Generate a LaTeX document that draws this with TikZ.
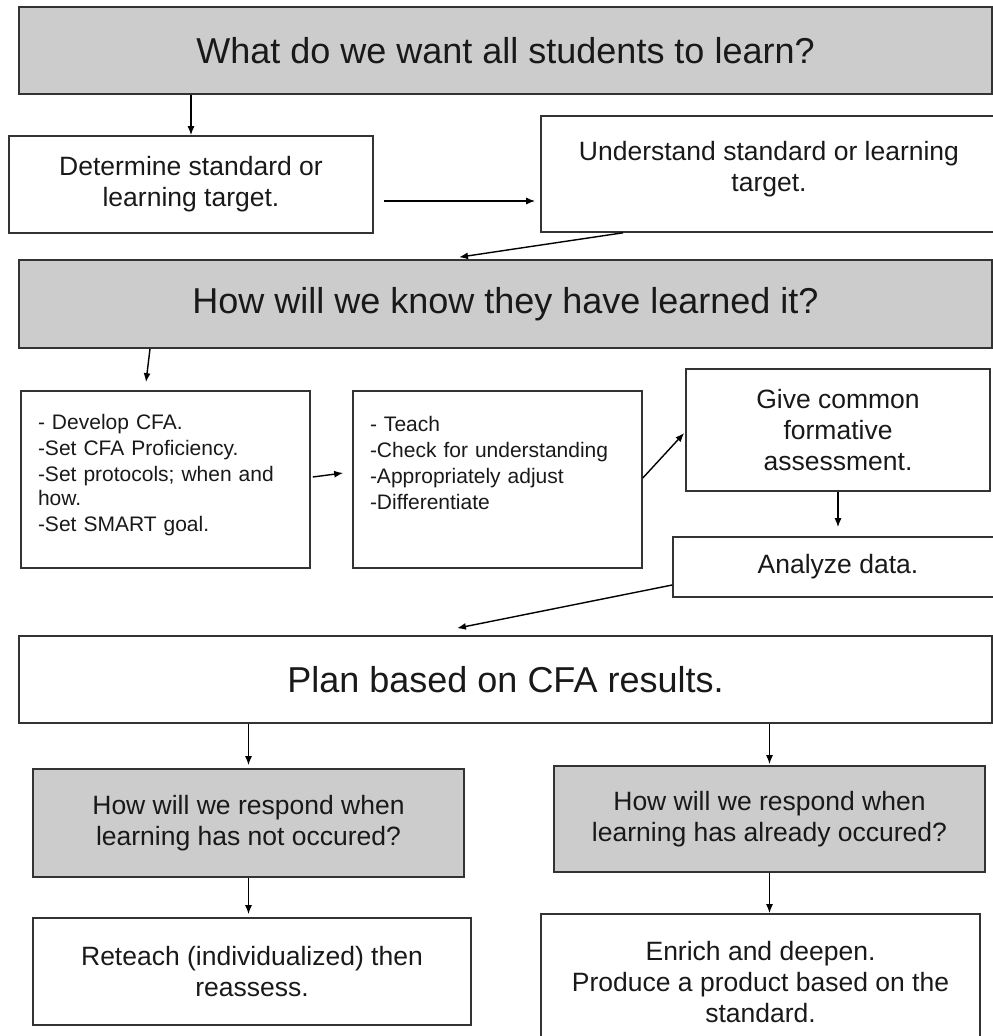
\documentclass[tikz,border=0pt]{standalone}
\usepackage{fontspec}
\setmainfont{Liberation Sans}
\usetikzlibrary{arrows.meta, positioning, calc}

\begin{document}
\begin{tikzpicture}[x=1pt, y=-1pt, >={Latex[length=9pt, width=7pt]},
  box/.style={draw=black!80, line width=1.6pt, inner sep=0pt, align=center, text=black!90},
  shaded/.style={box, fill=black!20},
  bigtext/.style={font=\fontsize{36}{42}\selectfont},
  midtext/.style={font=\fontsize{26.5}{31}\selectfont},
  listtext/.style={font=\fontsize{21}{24}\selectfont, text width=255pt, align=left},
  arr/.style={->, line width=1.4pt}]
  \useasboundingbox (0,0) rectangle (993,1036);
  \clip (0,0) rectangle (993,1036);

  \node[shaded, bigtext, minimum width=973pt, minimum height=87pt] (want) at (505.5,50.5)
    {What do we want all students to learn?};
  \node[box, midtext, minimum width=364pt, minimum height=97pt] (det) at (191,184.5)
    {Determine standard or\\learning target.};
  \node[box, midtext, minimum width=456pt, minimum height=116pt] (und) at (769,174)
    {Understand standard or learning\\target.\rule[-16pt]{0pt}{0pt}};
  \node[shaded, bigtext, minimum width=973pt, minimum height=88pt] (know) at (505.5,304)
    {How will we know they have learned it?};

  \node[box, listtext, minimum width=289pt, minimum height=177pt] (dev) at (165.5,479.5)
    {- Develop CFA.\\[2pt]-Set CFA Proficiency.\\[2pt]-Set protocols; when and how.\\[2pt]-Set SMART goal.\rule[-14pt]{0pt}{0pt}};
  \node[box, listtext, minimum width=289pt, minimum height=177pt] (teach) at (497.5,479.5)
    {- Teach\\[2pt]-Check for understanding\\[2pt]-Appropriately adjust\\[2pt]-Differentiate\rule[-34pt]{0pt}{0pt}};
  \node[box, midtext, minimum width=304pt, minimum height=122pt] (give) at (838,430)
    {Give common\\formative\\assessment.};
  \node[box, midtext, minimum width=330pt, minimum height=60pt] (data) at (838,567)
    {Analyze data.};

  \node[box, bigtext, minimum width=973pt, minimum height=87pt] (plan) at (505.5,679.5)
    {Plan based on CFA results.};
  \node[shaded, midtext, minimum width=431pt, minimum height=108pt] (notyet) at (248.5,823)
    {How will we respond when\\learning has not occured?};
  \node[shaded, midtext, minimum width=431pt, minimum height=106pt] (already) at (769.5,819)
    {How will we respond when\\learning has already occured?};
  \node[box, midtext, minimum width=438pt, minimum height=107pt] (reteach) at (252,971.5)
    {Reteach (individualized) then\\reassess.};
  \node[box, midtext, minimum width=439pt, minimum height=136pt] (enrich) at (760.5,982)
    {Enrich and deepen.\\Produce a product based on the\\standard.};

  \draw[arr] (det.north |- want.south) -- (det.north);
  \draw[arr] ([xshift=10pt, yshift=-16.5pt]det.east) -- ([xshift=-5pt, yshift=-27pt]und.west);
  \draw[arr] ([xshift=-146pt]und.south) -- ([xshift=-46.5pt, yshift=2pt]know.north);
  \draw[arr] ([xshift=-355.5pt]know.south) -- ([xshift=-19.5pt, yshift=8pt]dev.north);
  \draw[arr] ([xshift=2pt, yshift=2.5pt]dev.east) -- ([xshift=-9pt, yshift=6.5pt]teach.west);
  \draw[arr] ([yshift=1.5pt]teach.east) -- ([xshift=-1pt, yshift=-3pt]give.west);
  \draw[arr] (give.south) -- ([yshift=9pt]data.north);
  \draw[arr] ([yshift=-18pt]data.west) -- ([xshift=-48.5pt, yshift=7pt]plan.north);
  \draw[arr, shorten >=3pt] (notyet.north |- plan.south) -- (notyet.north);
  \draw[arr, shorten >=1pt] (already.north |- plan.south) -- (already.north);
  \draw[arr, shorten >=3pt] (notyet.south) -- (notyet.south |- reteach.north);
  \draw[arr] (already.south) -- (already.south |- enrich.north);
\end{tikzpicture}
\end{document}
